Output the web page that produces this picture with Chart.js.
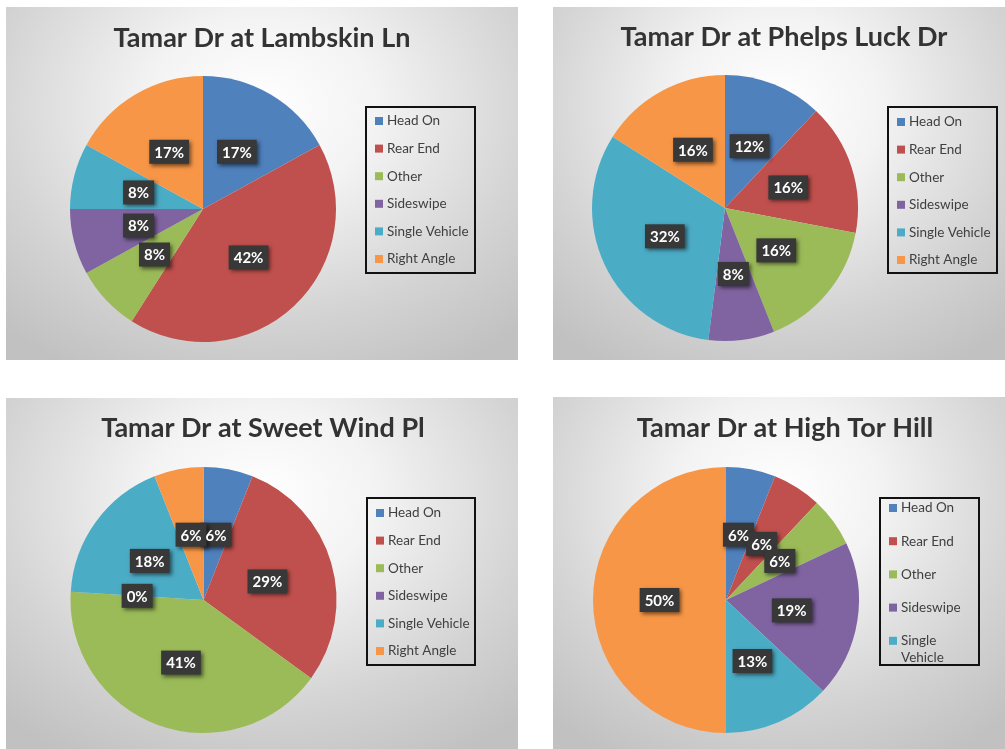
<!DOCTYPE html>
<html>
<head>
<meta charset="utf-8">
<script src="https://cdn.jsdelivr.net/npm/chart.js@4.4.1/dist/chart.umd.min.js"></script>
<style>
  html, body { margin: 0; padding: 0; background: #ffffff; }
  body { width: 1005px; height: 749px; position: relative; overflow: hidden; }
  .panel {
    position: absolute;
    background: radial-gradient(ellipse 75% 85% at 50% 28%, #ffffff 0%, #f3f3f3 30%, #d4d4d4 70%, #c1c1c1 100%);
  }
  .panel canvas { position: absolute; left: 0; top: 0; }
</style>
</head>
<body>
<div class="panel" id="p1"><canvas id="c1"></canvas></div>
<div class="panel" id="p2"><canvas id="c2"></canvas></div>
<div class="panel" id="p3"><canvas id="c3"></canvas></div>
<div class="panel" id="p4"><canvas id="c4"></canvas></div>
<script>
// categories and percentages
const categories = ['Head On', 'Rear End', 'Other', 'Sideswipe', 'Single Vehicle', 'Right Angle'];
const sliceColors = ['#4F81BD', '#C0504D', '#9BBB59', '#8064A2', '#4BACC6', '#F79646'];

const lambskinValues = [17, 42, 8, 8, 8, 17];
const phelpsLuckValues = [12, 16, 16, 8, 32, 16];
const sweetWindValues = [6, 29, 41, 0, 18, 6];
const highTorValues = [6, 6, 6, 19, 13, 50];

const chartTitles = ['Tamar Dr at Lambskin Ln', 'Tamar Dr at Phelps Luck Dr', 'Tamar Dr at Sweet Wind Pl', 'Tamar Dr at High Tor Hill'];

// layout of each panel (page pixels), pie centre / radius, title and legend box inside the panel
const panels = [
    { div: 'p1', canvas: 'c1', x: 6, y: 7, w: 512, h: 353, cx: 197, cy: 202, r: 133,
      titleX: 256, titleY: 31, legend: { x: 360, y: 100, w: 109, h: 166, first: 14, gap: 27.6, wrap: false }, values: lambskinValues },
    { div: 'p2', canvas: 'c2', x: 553, y: 7, w: 452, h: 353, cx: 172, cy: 201, r: 133,
      titleX: 231, titleY: 30, legend: { x: 335, y: 100, w: 109, h: 166, first: 15, gap: 27.6, wrap: false }, values: phelpsLuckValues },
    { div: 'p3', canvas: 'c3', x: 6, y: 398, w: 512, h: 351, cx: 197.5, cy: 202, r: 133,
      titleX: 257, titleY: 30, legend: { x: 361, y: 100, w: 108, h: 167, first: 15, gap: 27.6, wrap: false }, values: sweetWindValues },
    { div: 'p4', canvas: 'c4', x: 553, y: 397, w: 452, h: 352, cx: 173, cy: 203, r: 133,
      titleX: 232, titleY: 31, legend: { x: 327, y: 101, w: 99, h: 167, first: 10, gap: 33.2, wrap: true }, values: highTorValues }
];

const FONT = 'Lato, "Open Sans", "DejaVu Sans", sans-serif';

// titles, data labels and the boxed legend
const excelLook = {
    id: 'excelLook',
    afterDatasetsDraw(chart, args, opts) {
        const ctx = chart.ctx;
        const meta = chart.getDatasetMeta(0);
        const data = chart.data.datasets[0].data;
        ctx.save();
        ctx.font = 'bold 15px ' + FONT;
        ctx.textAlign = 'center';
        ctx.textBaseline = 'middle';
        // all boxes first, then the texts, so overlapping labels stay readable
        const spots = meta.data.map((arc, i) => {
            const pos = arc.tooltipPosition();
            const txt = data[i] + '%';
            return { x: pos.x, y: pos.y, txt: txt, w: ctx.measureText(txt).width + 10 };
        });
        spots.forEach(s => {
            ctx.save();
            ctx.shadowColor = 'rgba(0,0,0,0.55)';
            ctx.shadowBlur = 4;
            ctx.shadowOffsetX = 2;
            ctx.shadowOffsetY = 2;
            ctx.fillStyle = '#383838';
            ctx.fillRect(s.x - s.w / 2, s.y - 12, s.w, 24);
            ctx.restore();
        });
        ctx.fillStyle = '#ffffff';
        spots.forEach(s => ctx.fillText(s.txt, s.x, s.y + 1));
        ctx.restore();
    },
    afterDraw(chart, args, opts) {
        const ctx = chart.ctx;
        const p = opts.panel;
        ctx.save();
        // title
        ctx.font = 'bold 27px ' + FONT;
        ctx.fillStyle = '#333333';
        ctx.textAlign = 'center';
        ctx.textBaseline = 'middle';
        ctx.fillText(opts.title, p.titleX, p.titleY);

        // legend box
        const lg = p.legend;
        ctx.lineWidth = 2;
        ctx.strokeStyle = '#111111';
        ctx.strokeRect(lg.x, lg.y, lg.w, lg.h);
        ctx.beginPath();
        ctx.rect(lg.x + 1, lg.y + 1, lg.w - 2, lg.h - 2);
        ctx.clip();
        ctx.font = '13.5px ' + FONT;
        ctx.textAlign = 'left';
        const colors = chart.data.datasets[0].backgroundColor;
        const maxText = lg.w - 24;
        let y = lg.y + lg.first;
        chart.data.labels.forEach((lab, i) => {
            ctx.fillStyle = colors[i];
            ctx.fillRect(lg.x + 9, y - 4, 8, 8);
            ctx.fillStyle = '#404040';
            if (lg.wrap && ctx.measureText(lab).width > maxText && lab.indexOf(' ') > 0) {
                const parts = lab.split(' ');
                ctx.fillText(parts[0], lg.x + 21, y);
                ctx.fillText(parts.slice(1).join(' '), lg.x + 21, y + 17);
            } else {
                ctx.fillText(lab, lg.x + 21, y);
            }
            y += lg.gap;
        });
        ctx.restore();
    }
};

panels.forEach((p, idx) => {
    const div = document.getElementById(p.div);
    div.style.left = p.x + 'px';
    div.style.top = p.y + 'px';
    div.style.width = p.w + 'px';
    div.style.height = p.h + 'px';
    const canvas = document.getElementById(p.canvas);
    canvas.width = p.w;
    canvas.height = p.h;

    new Chart(canvas.getContext('2d'), {
        type: 'pie',
        data: {
            labels: categories,
            datasets: [{
                data: p.values,
                backgroundColor: sliceColors,
                borderWidth: 0,
                hoverOffset: 0
            }]
        },
        options: {
            responsive: false,
            animation: false,
            devicePixelRatio: 1,
            layout: {
                padding: {
                    left: p.cx - p.r,
                    top: p.cy - p.r,
                    right: p.w - (p.cx + p.r),
                    bottom: p.h - (p.cy + p.r)
                }
            },
            plugins: {
                legend: { display: false },
                title: { display: false },
                tooltip: { enabled: false },
                excelLook: { panel: p, title: chartTitles[idx] }
            }
        },
        plugins: [excelLook]
    });
});
</script>
</body>
</html>
